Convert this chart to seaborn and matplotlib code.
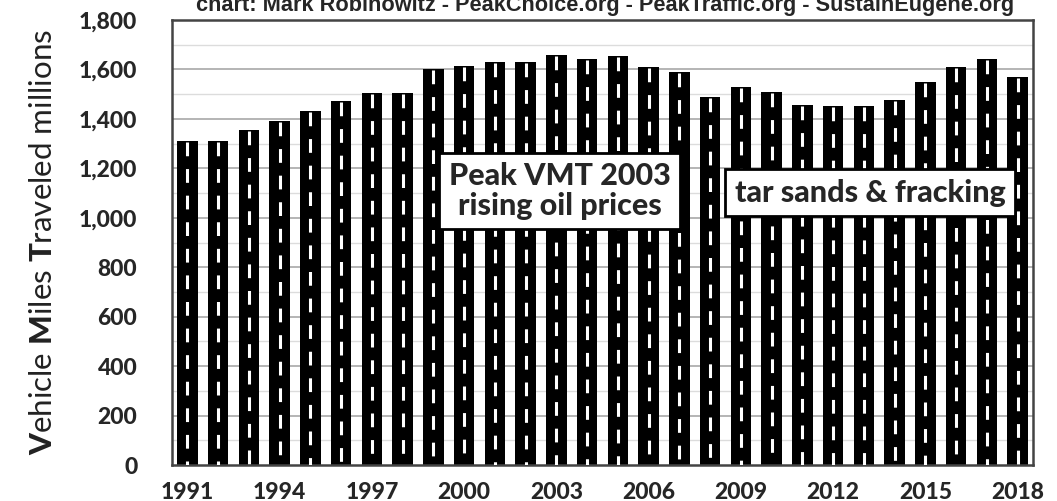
import matplotlib
matplotlib.use("Agg")
import matplotlib.pyplot as plt
import seaborn as sns
import numpy as np
import pandas as pd

years = list(range(1991, 2019))
vmt = [1312, 1312, 1355, 1391, 1430, 1473, 1505, 1505, 1600, 1613,
       1631, 1631, 1658, 1642, 1654, 1610, 1588, 1489, 1530, 1507,
       1456, 1452, 1452, 1475, 1548, 1610, 1642, 1569]
tick_years = [1991, 1994, 1997, 2000, 2003, 2006, 2009, 2012, 2015, 2018]
y_ticks = [0, 200, 400, 600, 800, 1000, 1200, 1400, 1600, 1800]
y_minor = [100, 300, 500, 700, 900, 1100, 1300, 1500, 1700]
title_text = "chart: Mark Robinowitz - PeakChoice.org - PeakTraffic.org - SustainEugene.org"
note1 = "Peak VMT 2003\nrising oil prices"
note2 = "tar sands & fracking"

sns.set_style("white")
plt.rcParams['font.family'] = ['Lato', 'DejaVu Sans']
plt.rcParams['mathtext.fontset'] = 'custom'
plt.rcParams['mathtext.rm'] = 'Lato'
plt.rcParams['mathtext.bf'] = 'Lato:black'

df = pd.DataFrame({"year": [str(y) for y in years], "vmt": vmt})

fig = plt.figure(figsize=(10.57, 5.01), dpi=100)
ax = fig.add_axes([172/1057, 1-465/501, (1033-172)/1057, (465-20)/501])

# gridlines
for v in y_minor:
    ax.axhline(v, color="#dcdcdc", lw=1.0, zorder=0)
for v in y_ticks[1:]:
    ax.axhline(v, color="#a8a8a8", lw=1.2, zorder=0)

sns.barplot(data=df, x="year", y="vmt", color="black", saturation=1,
            width=0.67, ax=ax, zorder=2, edgecolor="none")

xs = np.arange(len(years))
ax.vlines(xs, np.array(vmt) - 4, 0, colors="white", lw=2.2,
          linestyles=[(0, (4.5, 4.2))], zorder=3)

ax.set_xlim(-0.5, len(years) - 0.5)
ax.set_ylim(0, 1800)
ax.set_yticks(y_ticks)
ax.set_yticklabels([f"{v:,}" for v in y_ticks], fontsize=16.5, fontweight="black")
ax.set_xticks([years.index(y) for y in tick_years])
ax.set_xticklabels([str(y) for y in tick_years], fontsize=16.5, fontweight="black")
ax.tick_params(axis="both", length=0)
ax.tick_params(axis="y", pad=25)
ax.tick_params(axis="x", pad=12)
ax.set_xlabel("")
ax.set_ylabel(r"$\mathbf{V}$ehicle $\mathbf{M}$iles $\mathbf{T}$raveled millions",
              fontsize=22.5, labelpad=16, color="#222222")
for s in ax.spines.values():
    s.set_color("#444444")
    s.set_linewidth(1.8)
    s.set_visible(True)

box = dict(boxstyle="square,pad=0.3", facecolor="white", edgecolor="black", linewidth=2)
ax.text(12.1, 1108, note1, ha="center", va="center", fontsize=22,
        fontweight="black", bbox=box, zorder=5, linespacing=1.1)
ax.text(22.2, 1102, note2, ha="center", va="center", fontsize=22,
        fontweight="black", bbox=box, zorder=5)

fig.text(0.572, 1 - 11/501, title_text, ha="center", va="baseline", fontsize=15.7,
         fontweight="bold", family=["Liberation Sans", "DejaVu Sans"])

fig.savefig("out.png", dpi=100)
